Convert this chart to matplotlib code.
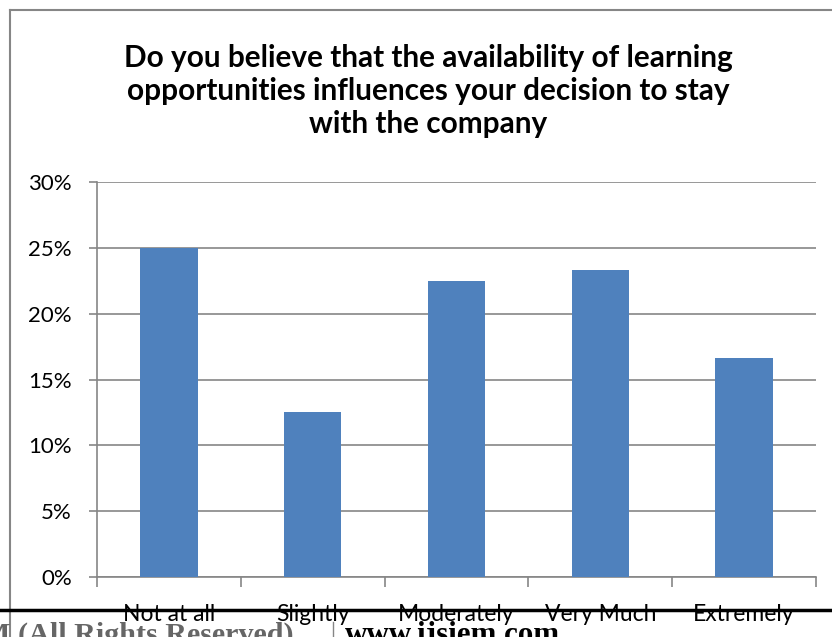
import matplotlib.pyplot as plt
import numpy as np
from matplotlib.lines import Line2D

# survey answers and share of respondents (%)
categories = ['Not at all', 'Slightly', 'Moderately', 'Very Much', 'Extremely']
shares = [25.0, 12.5, 22.5, 23.33, 16.67]
y_ticks = [0, 5, 10, 15, 20, 25, 30]
y_labels = ['0%', '5%', '10%', '15%', '20%', '25%', '30%']

title = ('Do you believe that the availability of learning\n'
         'opportunities influences your decision to stay\n'
         'with the company')

W, H = 832, 637
fig = plt.figure(figsize=(W / 100, H / 100), dpi=100)
fig.patch.set_facecolor('white')

def fx(px):
    return px / W

def fy(py):
    return 1 - py / H

grey = '#868686'
bar_col = '#4F81BD'

# chart frame
fig.add_artist(Line2D([fx(10), fx(10)], [fy(10), fy(640)], color=grey, lw=1.5))
fig.add_artist(Line2D([fx(10), fx(840)], [fy(10), fy(10)], color=grey, lw=1.5))

ax = fig.add_axes([fx(97), fy(577), fx(816) - fx(97), fy(182) - fy(577)])
x = np.arange(len(categories))
ax.bar(x, shares, width=0.4, color=bar_col, zorder=3)

ax.set_xlim(-0.5, len(categories) - 0.5)
ax.set_ylim(0, 30)
ax.set_yticks(y_ticks)
ax.set_yticklabels(y_labels, family='Lato', fontsize=16)
ax.yaxis.grid(True, color=grey, lw=1.2, zorder=0)
ax.tick_params(axis='y', direction='out', length=6, width=1.2, color=grey, pad=12)

ax.set_xticks(np.arange(len(categories) + 1) - 0.5)
ax.set_xticklabels([])
ax.tick_params(axis='x', which='major', direction='out', length=7, width=1.2, color=grey)
ax.set_xticks(x, minor=True)
ax.set_xticklabels(categories, minor=True, family='Lato', fontsize=16.5)
ax.tick_params(axis='x', which='minor', length=0, pad=19.5)

for side in ['top', 'right']:
    ax.spines[side].set_visible(False)
for side in ['left', 'bottom']:
    ax.spines[side].set_color(grey)
    ax.spines[side].set_linewidth(1.2)

fig.text(fx(428), fy(91), title, ha='center', va='center', family='Lato',
         fontweight='bold', fontsize=21.4, linespacing=1.2)

# page footer under the chart
fig.add_artist(Line2D([0, 1], [fy(610), fy(610)], color='black', lw=2.5, zorder=10))
fig.text(fx(294), fy(643), 'M (All Rights Reserved)', ha='right', va='baseline',
         family='Liberation Serif', fontweight='bold', fontsize=21.7, color='#666666')
fig.add_artist(Line2D([fx(333), fx(333)], [fy(622), fy(640)], color=grey, lw=1))
fig.text(fx(345), fy(643), 'www.ijsiem.com', ha='left', va='baseline',
         family='Liberation Serif', fontweight='bold', fontsize=22.3, color='black')

fig.savefig('out.png', dpi=100, facecolor='white')
